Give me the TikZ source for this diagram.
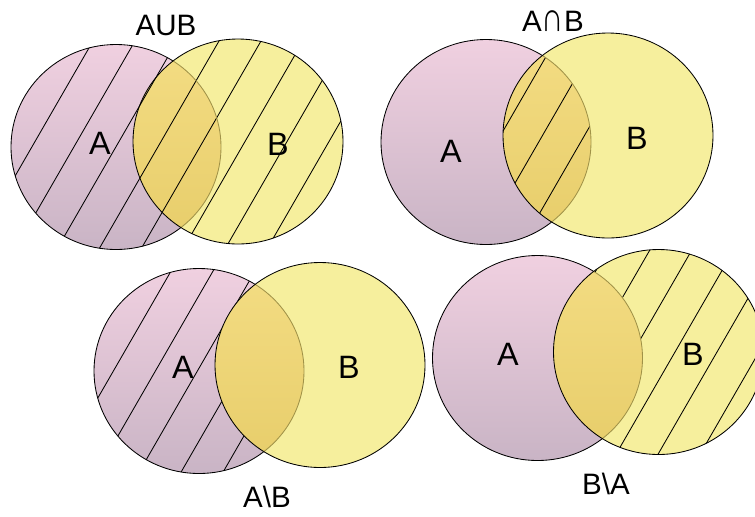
\documentclass[tikz,border=0pt]{standalone}
\usepackage{fontspec}
\setmainfont{Liberation Sans}
\usepackage{tikz}
\definecolor{pinktop}{RGB}{240,208,224}
\definecolor{pinkbot}{RGB}{201,180,197}
\definecolor{yellowset}{RGB}{246,239,157}
\definecolor{goldtop}{RGB}{244,221,132}
\definecolor{goldbot}{RGB}{231,205,106}
\definecolor{oliverim}{RGB}{160,146,72}
\tikzstyle{setA} = [draw=black, line width=0.6pt, top color=pinktop,
  bottom color=pinkbot]
\tikzstyle{setB} = [fill=yellowset]
\tikzstyle{setAB} = [top color=goldtop, bottom color=goldbot]
\tikzstyle{rim} = [draw=black, line width=0.6pt]
\tikzstyle{rimAB} = [draw=oliverim, line width=0.6pt]
\tikzstyle{hatchline} = [draw=black, line width=0.6pt]
\tikzstyle{setname} = [font=\fontsize{23}{26}\selectfont]
\tikzstyle{opname} = [font=\fontsize{21}{24}\selectfont, inner sep=1pt]
\newcommand{\capsign}{\scalebox{1.05}[1.4]{∩}}
\newcommand{\hatchin}[3]{%
  \begin{scope}
    % keep the strokes inside the set
    \clip (#1) ellipse (105 and 102.5);
    \foreach \k in {-8,...,8}
      \draw[hatchline] ({#2+\k*42-75},{#3+130}) -- ({#2+\k*42+75},{#3-130});
  \end{scope}}
\newcommand{\vennpair}[5]{%
  % set A, then what is hatched in it
  \path[setA] (#1) ellipse (105 and 102.5);
  #3
  % set B over it
  \path[setB] (#2) ellipse (105 and 102.5);
  #4
  % overlap of the two sets
  \begin{scope}
    \clip (#1) ellipse (105 and 102.5);
    \path[setAB] (#2) ellipse (105 and 102.5);
    #5
  \end{scope}
  \begin{scope}
    \clip (#2) ellipse (105 and 102.5);
    \draw[rimAB] (#1) ellipse (105 and 102.5);
  \end{scope}
  \draw[rim] (#2) ellipse (105 and 102.5);}

\begin{document}
\begin{tikzpicture}[x=0.025cm, y=-0.025cm]
  \useasboundingbox (0,0) rectangle (755,516);

  % centres of the sets
  \coordinate (UNIONA) at (116,147);
  \coordinate (UNIONB) at (238,141.5);
  \coordinate (MEETA) at (486,142);
  \coordinate (MEETB) at (608,135.5);
  \coordinate (ANOTBA) at (199,371);
  \coordinate (ANOTBB) at (320,365);
  \coordinate (BNOTAA) at (537.5,358);
  \coordinate (BNOTAB) at (658.5,352);

  % union block
  \vennpair{UNIONA}{UNIONB}{\hatchin{UNIONA}{33}{145}}{\hatchin{UNIONB}{33}{145}}{\hatchin{UNIONB}{33}{145}}
  \path (166,25) node (UNIONTITLE) [opname] {AUB};
  \path (100,143) node (UNIONSETA) [setname] {A};
  \path (278,144) node (UNIONSETB) [setname] {B};

  % intersection block
  \vennpair{MEETA}{MEETB}{}{}{\hatchin{MEETB}{495}{145}}
  \path (553,21) node (MEETTITLE) [opname] {A\capsign B};
  \path (451,151) node (MEETSETA) [setname] {A};
  \path (637,138) node (MEETSETB) [setname] {B};

  % A minus B block
  \vennpair{ANOTBA}{ANOTBB}{\hatchin{ANOTBA}{160}{363}}{}{}
  \path (267,497) node (ANOTBTITLE) [opname] {A\textbackslash B};
  \path (183,367) node (ANOTBSETA) [setname] {A};
  \path (349,367) node (ANOTBSETB) [setname] {B};

  % B minus A block
  \vennpair{BNOTAA}{BNOTAB}{}{\hatchin{BNOTAB}{591}{352}}{}
  \path (606,484) node (BNOTATITLE) [opname] {B\textbackslash A};
  \path (508,354) node (BNOTASETA) [setname] {A};
  \path (693,354) node (BNOTASETB) [setname] {B};

\end{tikzpicture}
\end{document}
